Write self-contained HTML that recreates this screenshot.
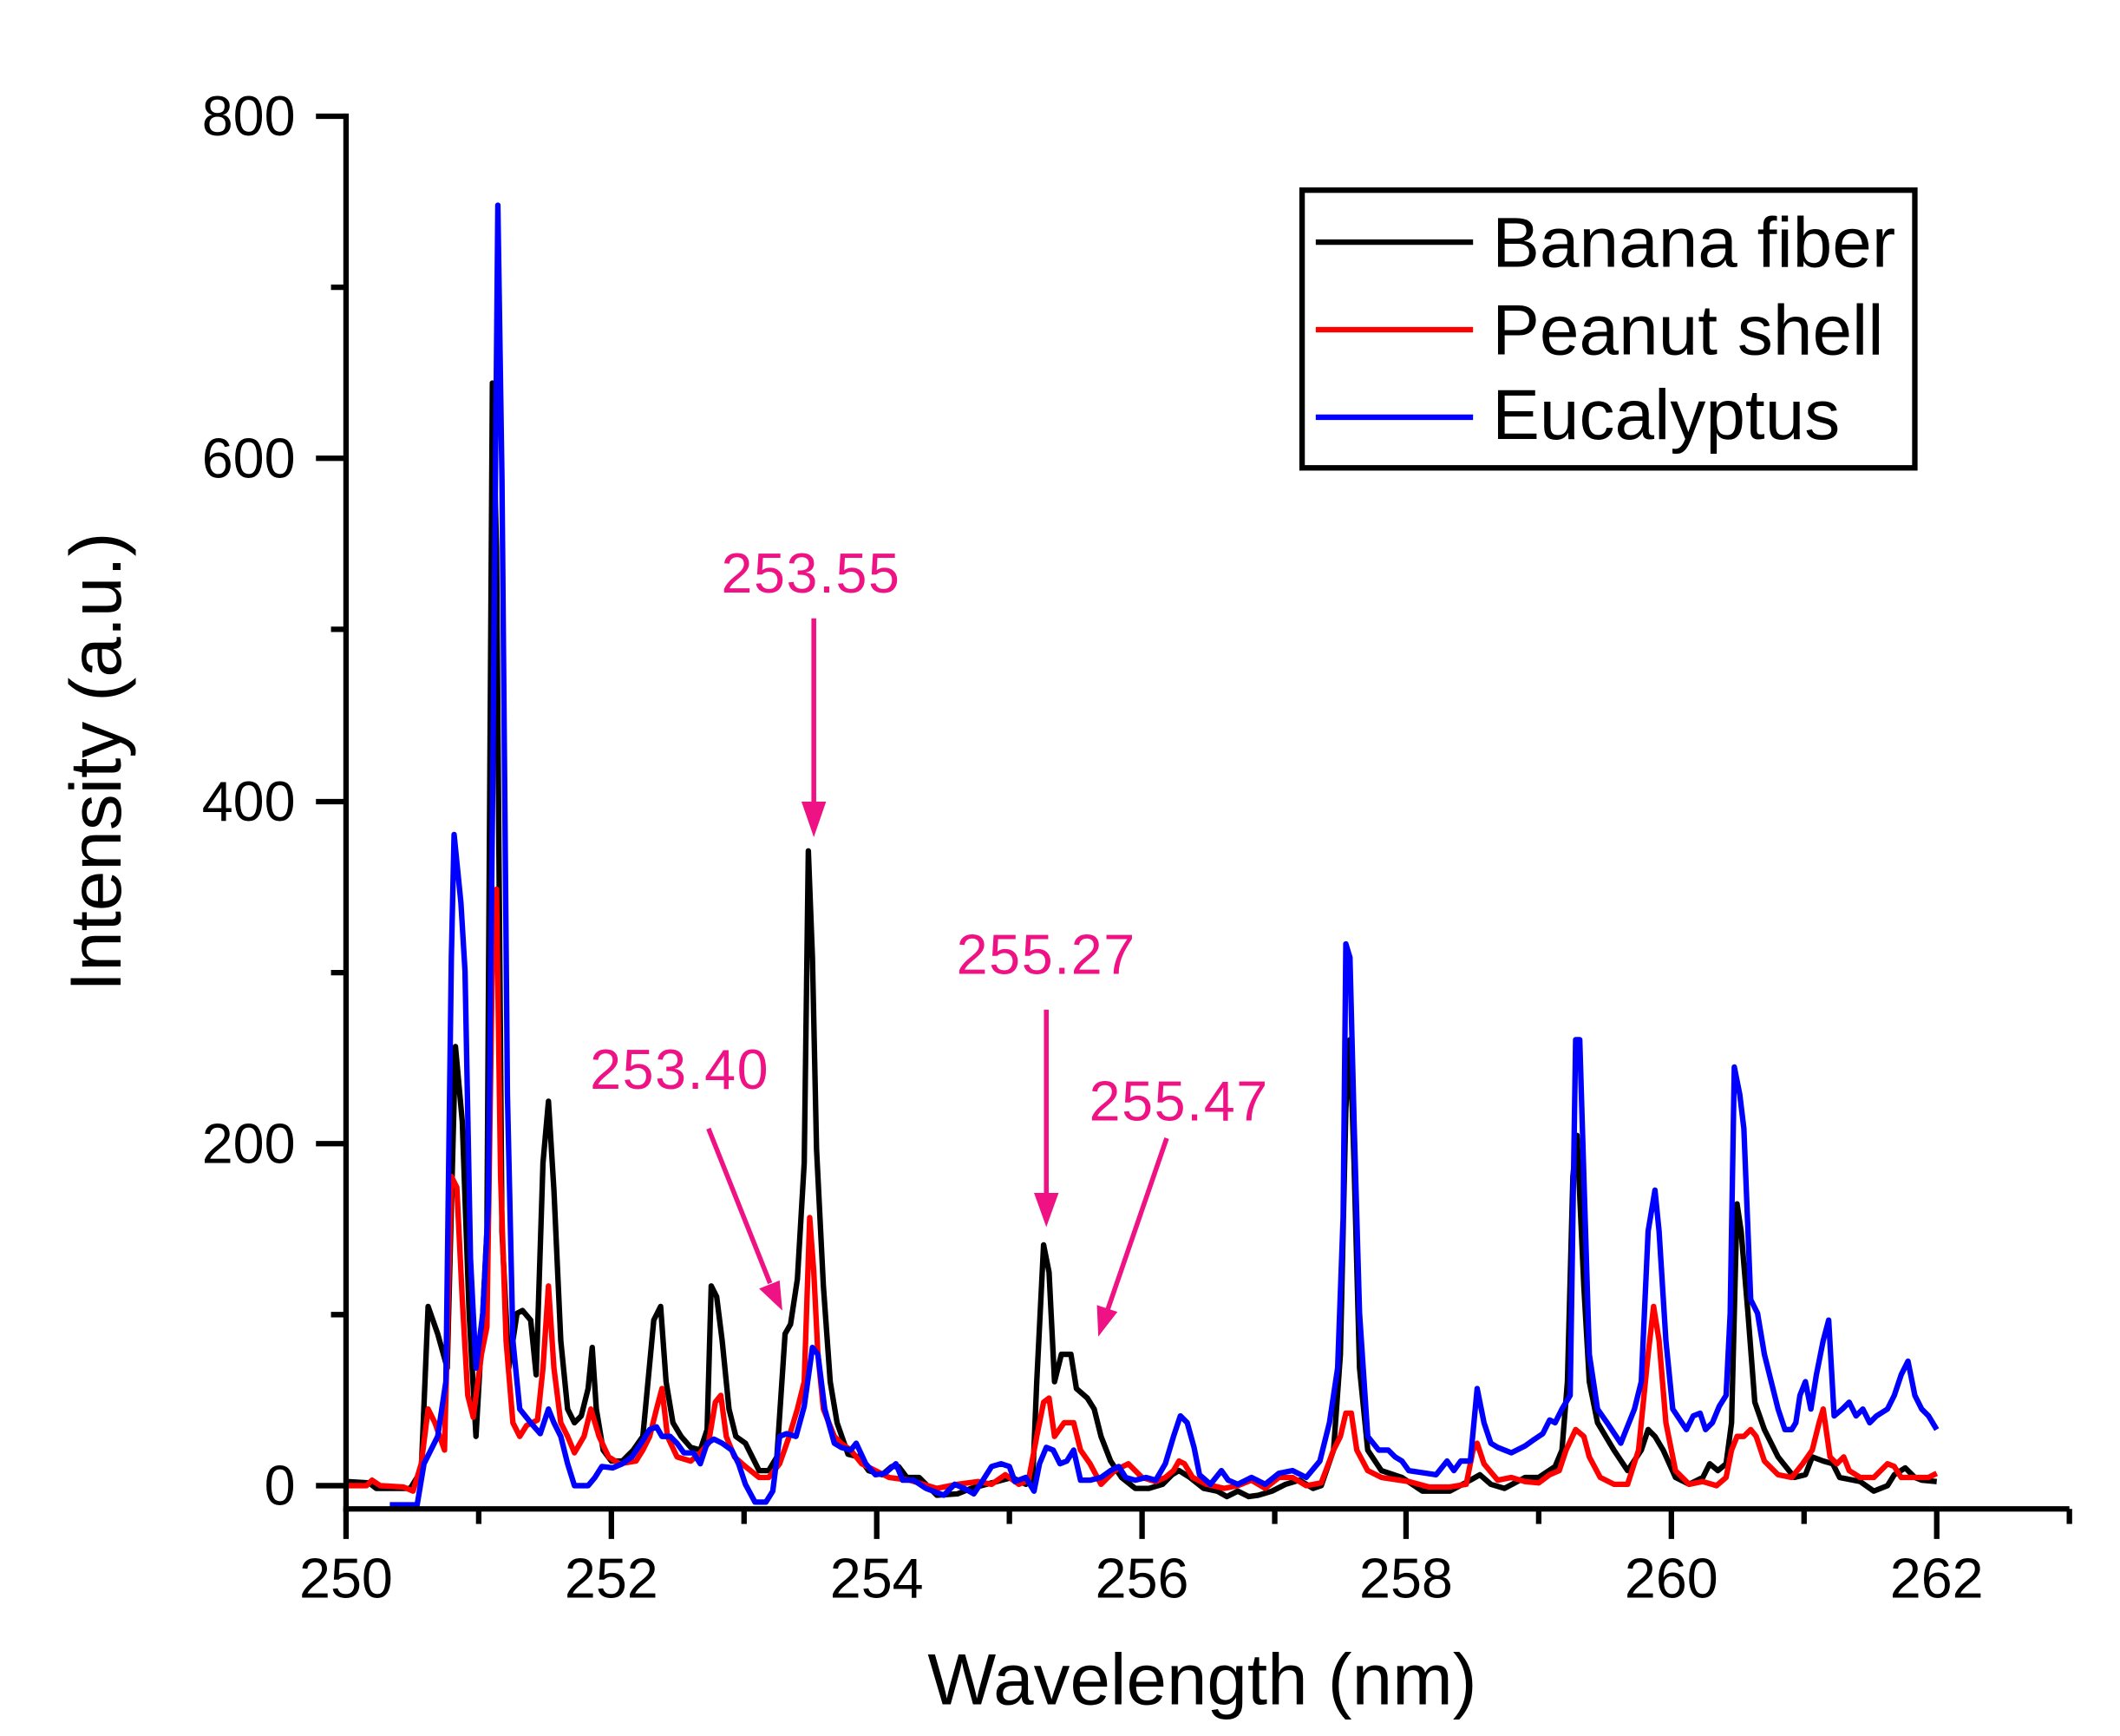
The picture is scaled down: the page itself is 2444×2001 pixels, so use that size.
<!DOCTYPE html>
<html><head><meta charset="utf-8"><style>html,body{margin:0;padding:0;background:#fff;}svg{display:block;}</style></head>
<body>
<svg width="2444" height="2001" viewBox="0 0 1550 1269" preserveAspectRatio="none" xmlns="http://www.w3.org/2000/svg" font-family="Liberation Sans, Arial, sans-serif">
<rect width="1550" height="1269" fill="#fff"/>
<g fill="none" stroke-linejoin="round" stroke-width="4">
<polyline stroke="#000" points="253,1083 270,1084 275,1088 300,1088 308,1075 313,955 320,975 327,1000 333,765 338,820 343,960 348,1050 352,980 356,900 360,280 363,400 367,900 372,1000 378,960 382,958 388,965 392,1005 397,850 401,805 405,870 410,980 415,1030 420,1040 425,1035 430,1015 433,985 436,1030 441,1060 447,1068 455,1068 463,1060 470,1050 478,965 483,955 487,1010 492,1040 498,1050 505,1058 512,1060 517,1045 520,940 524,948 528,980 533,1030 538,1050 545,1055 550,1065 555,1075 562,1075 568,1065 574,975 578,968 583,935 588,850 591,622 594,700 597,840 602,940 607,1010 612,1040 620,1063 628,1065 635,1075 645,1078 652,1072 657,1072 663,1080 672,1080 685,1093 700,1092 710,1088 740,1080 750,1085 755,1082 758,1010 763,910 767,930 771,1010 776,990 783,990 787,1015 795,1022 800,1030 805,1050 812,1068 820,1080 830,1088 840,1088 850,1085 857,1078 862,1075 870,1080 880,1088 890,1090 897,1094 905,1090 913,1094 920,1093 930,1090 940,1085 950,1082 960,1088 966,1086 975,1060 980,990 984,810 987,760 990,850 994,1000 1000,1060 1010,1075 1025,1080 1040,1090 1060,1090 1075,1082 1082,1078 1090,1085 1100,1088 1115,1080 1125,1080 1137,1072 1142,1060 1146,1010 1150,860 1153,830 1158,940 1162,1010 1168,1040 1180,1060 1190,1075 1200,1060 1205,1045 1210,1050 1216,1060 1225,1080 1235,1085 1245,1080 1250,1070 1256,1075 1262,1070 1266,1040 1270,880 1273,900 1278,960 1283,1025 1290,1045 1300,1065 1312,1080 1320,1078 1325,1065 1333,1068 1340,1070 1345,1080 1360,1083 1370,1090 1380,1086 1385,1078 1393,1073 1400,1080 1405,1082 1416,1083"/>
<polyline stroke="#ff0000" points="253,1086 268,1086 272,1082 278,1086 295,1087 302,1090 308,1070 313,1030 318,1040 325,1060 330,860 334,868 338,950 342,1020 346,1036 352,990 356,970 360,700 363,650 366,860 370,980 375,1040 380,1050 385,1042 393,1038 397,1000 401,940 405,1000 410,1040 415,1050 420,1062 427,1050 432,1030 438,1050 445,1065 453,1070 465,1068 470,1060 475,1050 480,1030 484,1015 488,1050 495,1065 505,1068 512,1062 518,1055 523,1025 527,1020 531,1050 537,1065 545,1072 555,1080 562,1080 570,1070 577,1050 583,1030 588,1010 592,890 595,930 598,990 602,1030 610,1050 615,1055 622,1060 630,1070 640,1075 650,1080 665,1082 685,1088 700,1085 715,1083 725,1085 735,1078 745,1085 752,1082 758,1050 763,1025 767,1022 771,1050 778,1040 785,1040 790,1060 797,1070 805,1085 815,1075 825,1070 835,1080 845,1083 852,1080 858,1075 862,1068 866,1070 872,1080 882,1085 895,1088 905,1086 915,1082 925,1088 935,1080 945,1080 955,1086 966,1084 975,1060 980,1050 984,1033 988,1033 992,1060 1000,1075 1010,1080 1030,1083 1045,1087 1060,1087 1072,1085 1077,1060 1080,1055 1085,1070 1095,1082 1105,1080 1115,1083 1125,1084 1133,1078 1140,1075 1145,1060 1152,1045 1158,1050 1162,1065 1170,1080 1180,1085 1190,1085 1198,1060 1205,990 1209,955 1213,980 1218,1040 1225,1075 1235,1085 1245,1083 1255,1086 1262,1080 1266,1060 1270,1050 1275,1050 1280,1045 1284,1050 1290,1068 1300,1078 1310,1080 1318,1070 1325,1060 1330,1040 1333,1030 1338,1065 1343,1070 1348,1065 1352,1075 1360,1080 1370,1080 1380,1070 1385,1072 1390,1080 1410,1080 1416,1077"/>
<polyline stroke="#0000ff" points="285,1100 305,1100 310,1070 315,1060 320,1050 326,1010 330,700 332,610 337,660 340,710 344,920 348,1000 353,960 357,880 360,600 364,150 367,350 371,800 375,980 380,1030 388,1040 395,1048 401,1030 405,1040 410,1050 415,1070 420,1086 430,1086 435,1080 440,1072 448,1073 455,1070 462,1065 470,1053 475,1045 480,1043 484,1050 490,1050 495,1055 500,1062 507,1062 512,1070 517,1055 522,1052 528,1055 535,1060 540,1070 545,1085 552,1098 560,1098 565,1090 570,1050 575,1048 582,1050 588,1028 594,985 598,990 603,1030 610,1055 615,1058 622,1060 626,1055 633,1070 640,1078 647,1077 655,1070 660,1082 668,1082 677,1088 690,1093 698,1085 705,1088 712,1092 718,1083 725,1072 732,1070 738,1072 742,1083 750,1080 756,1090 760,1070 765,1058 770,1060 775,1070 780,1068 785,1060 790,1082 797,1082 805,1080 812,1075 818,1072 823,1080 830,1082 838,1080 845,1082 852,1070 858,1050 863,1035 868,1040 873,1058 877,1078 885,1085 893,1075 898,1082 905,1085 915,1080 925,1085 935,1077 945,1075 955,1080 965,1068 972,1040 978,1000 982,890 984,690 987,700 990,820 994,960 1000,1050 1008,1060 1015,1060 1020,1065 1025,1068 1030,1075 1050,1078 1058,1068 1063,1075 1068,1068 1075,1068 1080,1015 1085,1040 1090,1055 1095,1058 1105,1062 1115,1057 1122,1052 1128,1048 1133,1038 1137,1040 1142,1030 1148,1020 1152,760 1155,760 1158,860 1162,990 1168,1030 1175,1040 1185,1055 1195,1030 1200,1010 1205,900 1210,870 1213,900 1218,980 1223,1030 1233,1045 1238,1035 1243,1033 1247,1045 1252,1040 1257,1028 1262,1020 1265,960 1268,780 1272,800 1275,825 1280,950 1285,960 1290,990 1295,1010 1300,1030 1305,1045 1310,1045 1313,1040 1316,1020 1320,1010 1324,1030 1328,1005 1333,980 1337,965 1341,1035 1347,1030 1352,1025 1357,1035 1362,1030 1367,1040 1372,1035 1380,1030 1385,1020 1390,1005 1395,995 1400,1020 1405,1030 1410,1035 1416,1045"/>
</g>
<g stroke="#000" stroke-width="4" fill="none">
<line x1="253" y1="83" x2="253" y2="1105"/>
<line x1="251" y1="1103" x2="1513" y2="1103"/>
<line x1="231" y1="85" x2="253" y2="85"/><line x1="231" y1="335" x2="253" y2="335"/><line x1="231" y1="586" x2="253" y2="586"/><line x1="231" y1="836" x2="253" y2="836"/><line x1="231" y1="1086" x2="253" y2="1086"/>
<line x1="242" y1="210" x2="253" y2="210"/><line x1="242" y1="460" x2="253" y2="460"/><line x1="242" y1="711" x2="253" y2="711"/><line x1="242" y1="961" x2="253" y2="961"/>
<line x1="253" y1="1103" x2="253" y2="1125"/><line x1="447" y1="1103" x2="447" y2="1125"/><line x1="641" y1="1103" x2="641" y2="1125"/><line x1="835" y1="1103" x2="835" y2="1125"/><line x1="1028" y1="1103" x2="1028" y2="1125"/><line x1="1222" y1="1103" x2="1222" y2="1125"/><line x1="1416" y1="1103" x2="1416" y2="1125"/>
<line x1="350" y1="1103" x2="350" y2="1114"/><line x1="544" y1="1103" x2="544" y2="1114"/><line x1="738" y1="1103" x2="738" y2="1114"/><line x1="932" y1="1103" x2="932" y2="1114"/><line x1="1125" y1="1103" x2="1125" y2="1114"/><line x1="1319" y1="1103" x2="1319" y2="1114"/><line x1="1513" y1="1103" x2="1513" y2="1114"/>
</g>
<g font-size="41" fill="#000" text-anchor="end">
<text x="216" y="99">800</text><text x="216" y="349">600</text><text x="216" y="600">400</text><text x="216" y="850">200</text><text x="216" y="1100">0</text>
</g>
<g font-size="41" fill="#000" text-anchor="middle">
<text x="253" y="1168">250</text><text x="447" y="1168">252</text><text x="641" y="1168">254</text><text x="835" y="1168">256</text><text x="1028" y="1168">258</text><text x="1222" y="1168">260</text><text x="1416" y="1168">262</text>
</g>
<text x="879" y="1246" font-size="53" text-anchor="middle">Wavelength (nm)</text>
<text transform="translate(88,557) rotate(-90)" font-size="53" text-anchor="middle">Intensity (a.u.)</text>
<rect x="952" y="139" width="448" height="203" fill="none" stroke="#000" stroke-width="4"/>
<line x1="962" y1="177" x2="1077" y2="177" stroke="#000" stroke-width="4"/>
<line x1="962" y1="241" x2="1077" y2="241" stroke="#ff0000" stroke-width="4"/>
<line x1="962" y1="305" x2="1077" y2="305" stroke="#0000ff" stroke-width="4"/>
<g font-size="52"><text x="1091" y="195">Banana fiber</text><text x="1091" y="259">Peanut shell</text><text x="1091" y="321">Eucalyptus</text></g>
<g fill="#ee1285" font-size="41" text-anchor="middle" letter-spacing="1">
<text x="593" y="433">253.55</text><text x="497" y="796">253.40</text><text x="765" y="712">255.27</text><text x="862" y="819">255.47</text>
</g>
<g stroke="#ee1285" stroke-width="3.5">
<line x1="595" y1="452" x2="595" y2="590"/><line x1="518" y1="825" x2="563" y2="938"/><line x1="765" y1="738" x2="765" y2="875"/><line x1="853" y1="832" x2="810" y2="957"/>
</g>
<g fill="#ee1285">
<polygon points="586,586 604,586 595,612"/>
<polygon points="555,942 570,936 572,958"/>
<polygon points="756,872 774,872 765,897"/>
<polygon points="802,954 817,959 803,977"/>
</g>
</svg>
</body></html>
